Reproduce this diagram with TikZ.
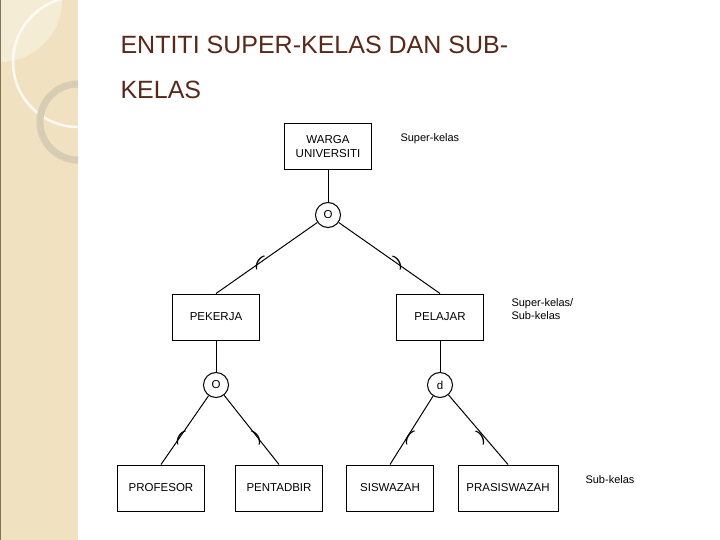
\documentclass[tikz,border=0pt]{standalone}
\usepackage{fontspec}
\setmainfont{Liberation Sans}
\begin{document}
\begin{tikzpicture}[x=1pt,y=-1pt,
  ent/.style={draw,line width=1pt,minimum width=87pt,minimum height=46pt,font=\fontsize{11.5}{14}\selectfont,align=center},
  spec/.style={draw,line width=1pt,circle,minimum size=25pt,inner sep=0pt,font=\fontsize{11.5}{13}\selectfont},
  lbl/.style={font=\fontsize{11}{13}\selectfont,align=left,anchor=west},
  sub/.style={font=\fontsize{17}{17}\selectfont,inner sep=0pt},
  con/.style={line width=1pt}]
\useasboundingbox (0,0) rectangle (720,540);
\fill[white] (0,0) rectangle (720,540);
\fill[color={rgb,255:red,240;green,226;blue,192}] (0,0) rectangle (78,540);
\begin{scope}
\clip (0,0) rectangle (78,540);
\fill[white,opacity=0.35] (0,0) circle (62);
\draw[white,line width=2.5pt,opacity=0.8] (78,62) circle (65);
\draw[color={rgb,255:red,215;green,205;blue,180},line width=7pt] (78,122) circle (38);
\end{scope}
\draw[color={rgb,255:red,130;green,115;blue,90},line width=1.2pt] (0.6,0) -- (0.6,540);
\node[anchor=west,text={rgb,255:red,90;green,40;blue,25},font=\fontsize{25}{25}\selectfont] (t1) at (117,45) {ENTITI SUPER-KELAS DAN SUB-};
\node[anchor=west,text={rgb,255:red,90;green,40;blue,25},font=\fontsize{25}{25}\selectfont] (t2) at (117,90) {KELAS};
\node[ent] (wu) at (328,147) {WARGA\\UNIVERSITI};
\node[spec] (c1) at (328,215) {O};
\node[ent] (pk) at (216,317) {PEKERJA};
\node[ent] (pl) at (440,317) {PELAJAR};
\node[spec] (c2) at (216,385) {O};
\node[spec] (c3) at (440,385) {d};
\node[ent] (pr) at (161,488) {PROFESOR};
\node[ent] (pe) at (279,488) {PENTADBIR};
\node[ent] (si) at (390,488) {SISWAZAH};
\node[ent,minimum width=100pt] (ps) at (508,488) {PRASISWAZAH};
\node[lbl] (l1) at (397,139) {Super-kelas};
\node[lbl] (l2) at (508,309) {Super-kelas/\\Sub-kelas};
\node[lbl] (l3) at (582,480) {Sub-kelas};
\draw[con] (wu) -- (c1);
\draw[con] (c1) -- (pk.north);
\draw[con] (c1) -- (pl.north);
\draw[con] (pk) -- (c2);
\draw[con] (pl) -- (c3);
\draw[con] (c2) -- (pr.north);
\draw[con] (c2) -- (pe.north);
\draw[con] (c3) -- (si.north);
\draw[con] (c3) -- (ps.north);
\node[sub,rotate=-30] (s1) at (259,262) {(};
\node[sub,rotate=30] (s2) at (398,262) {)};
\node[sub,rotate=-30] (s3) at (180,437) {(};
\node[sub,rotate=30] (s4) at (257,437) {)};
\node[sub,rotate=-30] (s5) at (409,437) {(};
\node[sub,rotate=30] (s6) at (481,437) {)};
\end{tikzpicture}
\end{document}
